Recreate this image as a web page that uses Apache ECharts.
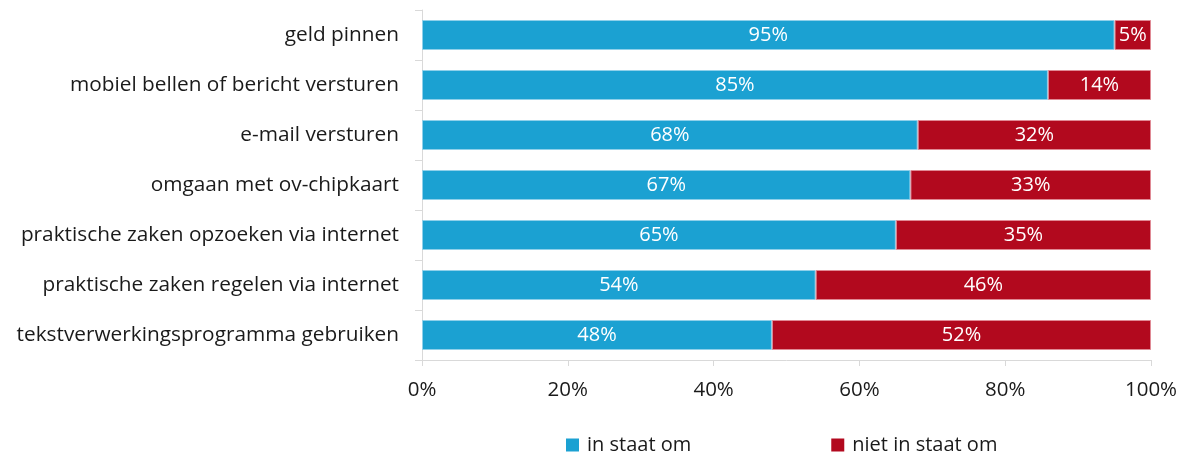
<!DOCTYPE html>
<html>
<head>
<meta charset="utf-8">
<script src="https://cdn.jsdelivr.net/npm/echarts@6/dist/echarts.min.js"></script>
<style>
  html, body { margin: 0; padding: 0; background: #fff; }
  #chart { width: 1181px; height: 454px; }
</style>
</head>
<body>
<div id="chart"></div>
<script>
// Digitale vaardigheden: aandeel dat een handeling wel / niet kan uitvoeren
const categories = [
  'geld pinnen',
  'mobiel bellen of bericht versturen',
  'e-mail versturen',
  'omgaan met ov-chipkaart',
  'praktische zaken opzoeken via internet',
  'praktische zaken regelen via internet',
  'tekstverwerkingsprogramma gebruiken'
];
const inStaat = [95, 85, 68, 67, 65, 54, 48];
const nietInStaat = [5, 14, 32, 33, 35, 46, 52];
const xTicks = ['0%', '20%', '40%', '60%', '80%', '100%'];
const seriesNames = ['in staat om', 'niet in staat om'];

// 100%-gestapeld: elke balk wordt geschaald naar zijn eigen totaal,
// het label toont het opgegeven percentage.
function share(values, other) {
  return values.map((v, i) => ({ value: v / (v + other[i]) * 100, raw: v }));
}

const font = '"Open Sans", "Noto Sans", sans-serif';
const textColor = '#1a1a1a';
const chart = echarts.init(document.getElementById('chart'), null, { renderer: 'canvas' });

const labelStyle = {
  show: true,
  position: 'inside',
  color: '#ffffff',
  fontFamily: font,
  fontSize: 20,
  formatter: p => p.data.raw + '%'
};

chart.setOption({
  animation: false,
  grid: { left: 422, right: 30, top: 10, bottom: 94, containLabel: false },
  legend: {
    top: 430,
    left: 561,
    itemWidth: 13,
    itemHeight: 13,
    itemGap: 140,
    icon: 'rect',
    itemStyle: { borderWidth: 0 },
    textStyle: { fontFamily: font, fontSize: 20, color: textColor, padding: [0, 0, 0, 3] },
    data: seriesNames
  },
  xAxis: {
    type: 'value',
    min: 0,
    max: 100,
    interval: 20,
    axisLine: { show: true, lineStyle: { color: '#d9d9d9', width: 1 } },
    axisTick: { show: true, length: 6, lineStyle: { color: '#d9d9d9' } },
    splitLine: { show: false },
    axisLabel: {
      margin: 20,
      fontFamily: font,
      fontSize: 20.5,
      color: textColor,
      formatter: v => xTicks[Math.round(v / 20)]
    }
  },
  yAxis: {
    type: 'category',
    inverse: true,
    data: categories,
    axisLine: { show: true, lineStyle: { color: '#d9d9d9', width: 1 } },
    axisTick: { show: true, length: 7, lineStyle: { color: '#d9d9d9' } },
    axisLabel: {
      margin: 23,
      fontFamily: font,
      fontSize: 20.8,
      color: textColor
    }
  },
  series: [
    {
      name: seriesNames[0],
      type: 'bar',
      stack: 'totaal',
      barCategoryGap: '40%',
      data: share(inStaat, nietInStaat),
      itemStyle: { color: '#1ba1d2', borderColor: '#8fd0ea', borderWidth: 1 },
      label: labelStyle
    },
    {
      name: seriesNames[1],
      type: 'bar',
      stack: 'totaal',
      barCategoryGap: '40%',
      data: share(nietInStaat, inStaat),
      itemStyle: { color: '#b2091e', borderColor: '#e08a95', borderWidth: 1 },
      label: labelStyle
    }
  ]
});
</script>
</body>
</html>
